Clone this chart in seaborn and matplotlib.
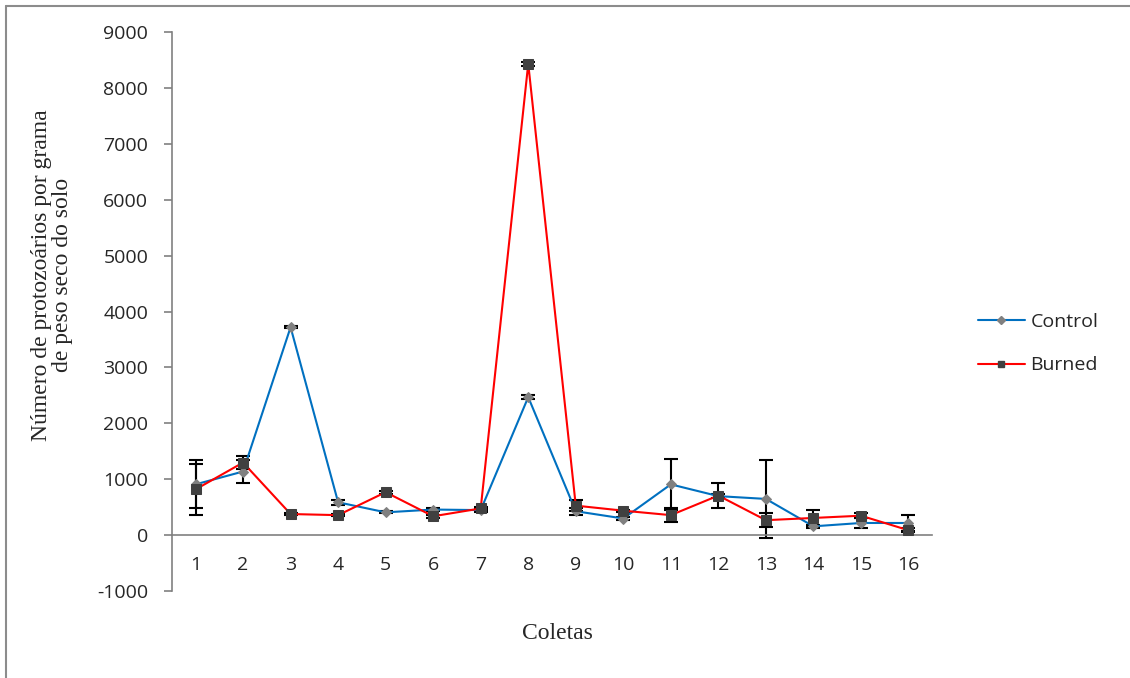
import pandas as pd
import matplotlib.pyplot as plt
import seaborn as sns
from matplotlib.lines import Line2D

# Datos
coletas = list(range(1, 17))
control = [910, 1140, 3720, 590, 410, 460, 450, 2470, 430, 300, 910, 700, 650, 160, 220, 220]
control_err = [430, 200, 20, 40, 20, 30, 30, 30, 60, 20, 450, 30, 690, 30, 90, 150]
burned = [820, 1300, 380, 360, 770, 340, 480, 8430, 530, 440, 360, 710, 270, 310, 350, 90]
burned_err = [460, 120, 20, 20, 30, 30, 30, 40, 100, 20, 130, 220, 120, 150, 40, 40]

df = pd.DataFrame({
    'Coletas': coletas * 2,
    'valor': control + burned,
    'serie': ['Control'] * 16 + ['Burned'] * 16,
})

sns.set_style("white")
plt.rcParams['font.family'] = ['Open Sans', 'DejaVu Sans']
plt.rcParams['axes.unicode_minus'] = False

fig = plt.figure(figsize=(11.3, 6.78), dpi=100)
ax = fig.add_axes([0.152, 0.128, 0.673, 0.825])

# Barras de error (negras)
ax.errorbar(coletas, control, yerr=control_err, fmt='none', ecolor='black',
            elinewidth=1.5, capsize=5, capthick=1.5, zorder=2)
ax.errorbar(coletas, burned, yerr=burned_err, fmt='none', ecolor='black',
            elinewidth=1.5, capsize=5, capthick=1.5, zorder=2)

sns.lineplot(data=df, x='Coletas', y='valor', hue='serie', style='serie',
             palette={'Control': '#0070C0', 'Burned': '#FF0000'},
             markers={'Control': 'D', 'Burned': 's'}, dashes=False,
             linewidth=1.5, ax=ax, legend=False, zorder=3)

# Colores de marcadores
for line, mc, ms in zip(ax.lines[-2:], ['#808080', '#404040'], [5, 7]):
    line.set_markerfacecolor(mc)
    line.set_markeredgecolor(mc)
    line.set_markersize(ms)

ax.set_xlim(0.5, 16.5)
ax.set_ylim(-1000, 9000)
ax.set_yticks(range(-1000, 9001, 1000))

# Eje x en y=0, marcas entre categorías
ax.spines['bottom'].set_position(('data', 0))
ax.spines['top'].set_visible(False)
ax.spines['right'].set_visible(False)
for s in ['left', 'bottom']:
    ax.spines[s].set_color('#808080')
    ax.spines[s].set_linewidth(1.2)
ax.set_xticks([i + 0.5 for i in range(0, 17)])
ax.set_xticklabels([])
ax.tick_params(axis='x', which='major', direction='out', length=7, color='#808080', width=1.2)
ax.set_xticks(coletas, minor=True)
ax.set_xticklabels([str(c) for c in coletas], minor=True)
ax.tick_params(axis='x', which='minor', length=0, pad=15, labelsize=14)
ax.tick_params(axis='y', direction='out', length=6, color='#808080', width=1.2, labelsize=14, pad=11)
ax.yaxis.set_ticks_position('left')

ax.set_xlabel('')
ax.set_ylabel('')
fig.text(0.493, 0.065, 'Coletas', ha='center', va='center',
         family='Liberation Serif', fontsize=17)
fig.text(0.046, 0.594, 'Número de protozoários por grama\nde peso seco do solo',
         ha='center', va='center', rotation=90, family='Liberation Serif',
         fontsize=17, linespacing=0.95)

# Leyenda
handles = [Line2D([], [], color='#0070C0', lw=1.5, marker='D', markersize=4,
                  markerfacecolor='#808080', markeredgecolor='#808080'),
           Line2D([], [], color='#FF0000', lw=1.5, marker='s', markersize=5,
                  markerfacecolor='#404040', markeredgecolor='#404040')]
fig.legend(handles, ['Control', 'Burned'], loc='center left',
           bbox_to_anchor=(0.850, 0.493), frameon=False, fontsize=14,
           handlelength=2.4, labelspacing=1.3, handletextpad=0.3)

# Marco exterior (arriba e izquierda)
fig.add_artist(Line2D([6 / 1130, 1], [1 - 6 / 678, 1 - 6 / 678], color='#8c8c8c', lw=1.5))
fig.add_artist(Line2D([6 / 1130, 6 / 1130], [0, 1 - 6 / 678], color='#8c8c8c', lw=1.5))

plt.savefig('out.png', dpi=100)
